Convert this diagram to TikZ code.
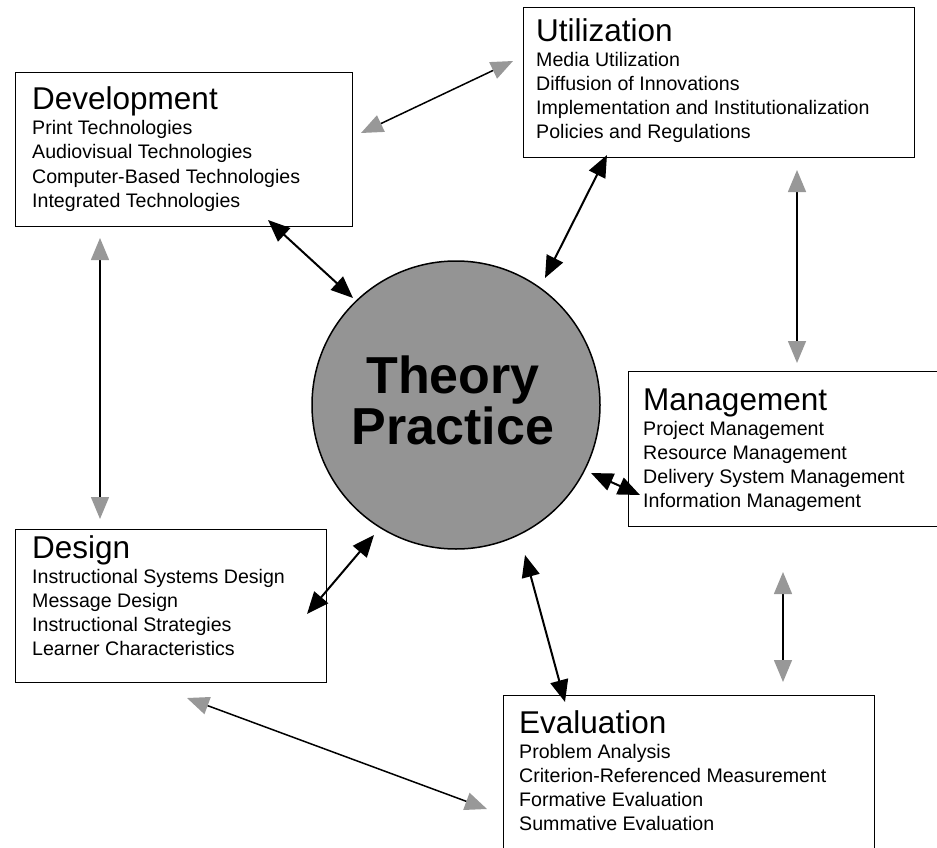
\documentclass[tikz,border=0pt]{standalone}
\usepackage{fontspec}
\setmainfont{Liberation Sans}
\usetikzlibrary{arrows.meta}
\definecolor{circlegray}{RGB}{148,148,148}
\definecolor{tipgray}{RGB}{152,152,152}
\tikzset{
  box/.style={draw, line width=1.4pt, anchor=north west, inner sep=0pt},
  heading/.style={anchor=base west, inner sep=0pt, font=\fontsize{31.5}{31.5}\selectfont},
  entry/.style={anchor=base west, inner sep=0pt, font=\fontsize{19.6}{19.6}\selectfont},
  link/.style={line width=2pt, {Triangle[length=22pt,width=18pt]}-{Triangle[length=22pt,width=18pt]}},
  graylink/.style={line width=1.5pt, {Triangle[length=22pt,width=18pt,color=tipgray]}-{Triangle[length=22pt,width=18pt,color=tipgray]}}
}
\begin{document}
\begin{tikzpicture}[x=1pt,y=-1pt]
      \useasboundingbox (0,0) rectangle (937,848);
      % boxes
      \node[box, minimum width=337pt, minimum height=154pt] (devbox) at (15,72) {};
      \node[box, minimum width=391pt, minimum height=150pt] (utilbox) at (523,7) {};
      \node[box, minimum width=320pt, minimum height=155pt] (mgmtbox) at (628,371) {};
      \node[box, minimum width=311pt, minimum height=153pt] (designbox) at (15,529) {};
      \node[box, minimum width=371pt, minimum height=170pt] (evalbox) at (503,695) {};
      % centre
      \node[circle, draw, fill=circlegray, line width=1.5pt, minimum size=288pt, inner sep=0pt] (theory) at (456,405) {};
      \node[align=center, inner sep=0pt, font=\bfseries\fontsize{52}{51}\selectfont] (tp) at (453,400) {Theory\\Practice};
      % texts
      \node[heading] (dev) at (32,110) {Development};
      \foreach \t [count=\i] in {Print Technologies, Audiovisual Technologies,
        Computer-Based Technologies, Integrated Technologies}
        \node[entry] (dev-\i) at (32,{110+1+24*\i}) {\t};
      \node[heading] (util) at (536,42) {Utilization};
      \foreach \t [count=\i] in {Media Utilization, Diffusion of Innovations,
        Implementation and Institutionalization, Policies and Regulations}
        \node[entry] (util-\i) at (536,{42+1+24*\i}) {\t};
      \node[heading] (mgmt) at (643,410) {Management};
      \foreach \t [count=\i] in {Project Management, Resource Management,
        Delivery System Management, Information Management}
        \node[entry] (mgmt-\i) at (643,{410+1+24*\i}) {\t};
      \node[heading] (design) at (32,558) {Design};
      \foreach \t [count=\i] in {Instructional Systems Design, Message Design,
        Instructional Strategies, Learner Characteristics}
        \node[entry] (design-\i) at (32,{558+1+24*\i}) {\t};
      \node[heading] (eval) at (519,733) {Evaluation};
      \foreach \t [count=\i] in {Problem Analysis, Criterion-Referenced Measurement,
        Formative Evaluation, Summative Evaluation}
        \node[entry] (eval-\i) at (519,{733+1+24*\i}) {\t};
      % arrow ends
      \coordinate (d1) at (268,220);  \coordinate (t1) at (353,298);
      \coordinate (u1) at (607,155);  \coordinate (t2) at (545,278);
      \coordinate (t3) at (591,473);  \coordinate (m1) at (640,495);
      \coordinate (g1) at (307,614);  \coordinate (t4) at (374,535);
      \coordinate (t5) at (525,555);  \coordinate (e1) at (565,702);
      \coordinate (d2) at (361,133);  \coordinate (u2) at (513,61);
      \coordinate (d3) at (100,238);  \coordinate (g2) at (100,519);
      \coordinate (u3) at (797,170);  \coordinate (m2) at (797,363);
      \coordinate (m3) at (783,572);  \coordinate (e2) at (783,682);
      \coordinate (g3) at (187,698);  \coordinate (e3) at (487,809);
      \begin{scope}[link]
        \draw (d1) to (t1);
        \draw (u1) to (t2);
        \draw (t3) to (m1);
        \draw (g1) to (t4);
        \draw (t5) to (e1);
      \end{scope}
      \begin{scope}[graylink]
        \draw (d2) to (u2);
        \draw (d3) to (g2);
        \draw (u3) to (m2);
        \draw (m3) to (e2);
        \draw (g3) to (e3);
      \end{scope}
    \end{tikzpicture}
\end{document}
